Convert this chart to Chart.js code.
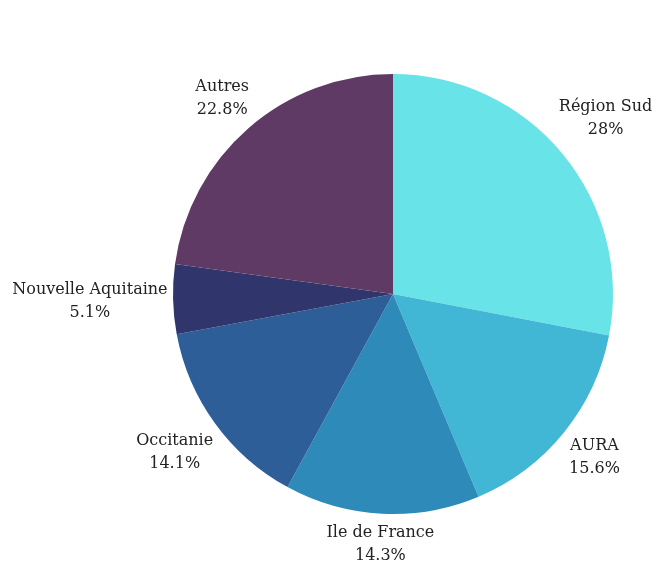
<!DOCTYPE html>
<html>
<head>
<meta charset="utf-8">
<script src="https://cdn.jsdelivr.net/npm/chart.js@4"></script>
<style>
  html, body { margin: 0; padding: 0; background: #fff; }
  #wrap { width: 656px; height: 561px; }
</style>
</head>
<body>
<div id="wrap"><canvas id="chart"></canvas></div>
<script>
const regions = ["Région Sud", "AURA", "Ile de France", "Occitanie", "Nouvelle Aquitaine", "Autres"];
const shares = [28, 15.6, 14.3, 14.1, 5.1, 22.8];
const colors = ["#68e3e8", "#42b6d5", "#2e8ab8", "#2e5e98", "#30356c", "#5e3a64"];

// draws "name / value%" outside each slice, pushed out along the mid angle
const outsideLabels = {
  id: "outsideLabels",
  afterDatasetsDraw(chart) {
    const ctx = chart.ctx;
    const meta = chart.getDatasetMeta(0);
    ctx.save();
    ctx.font = "16px 'DejaVu Serif', serif";
    ctx.fillStyle = "#222";
    ctx.textAlign = "center";
    ctx.textBaseline = "middle";
    const lineH = 23;
    meta.data.forEach((arc, i) => {
      const mid = (arc.startAngle + arc.endAngle) / 2;
      const cos = Math.cos(mid), sin = Math.sin(mid);
      const lines = [regions[i], shares[i] + "%"];
      const w = Math.max(...lines.map((t) => ctx.measureText(t).width));
      const h = lineH * lines.length;
      const dist = arc.outerRadius + 5 + (w / 2) * Math.abs(cos) + (h / 2) * Math.abs(sin);
      const cx = arc.x + dist * cos;
      const cy = arc.y + dist * sin;
      lines.forEach((t, k) => {
        ctx.fillText(t, cx, cy - h / 2 + lineH * (k + 0.5));
      });
    });
    ctx.restore();
  },
};

new Chart(document.getElementById("chart"), {
  type: "pie",
  data: {
    labels: regions,
    datasets: [
      {
        data: shares,
        backgroundColor: colors,
        borderWidth: 0,
      },
    ],
  },
  options: {
    responsive: true,
    maintainAspectRatio: false,
    animation: false,
    layout: {
      padding: { top: 74, bottom: 47, left: 173, right: 43 },
    },
    plugins: {
      legend: { display: false },
      tooltip: { enabled: false },
    },
  },
  plugins: [outsideLabels],
});
</script>
</body>
</html>
